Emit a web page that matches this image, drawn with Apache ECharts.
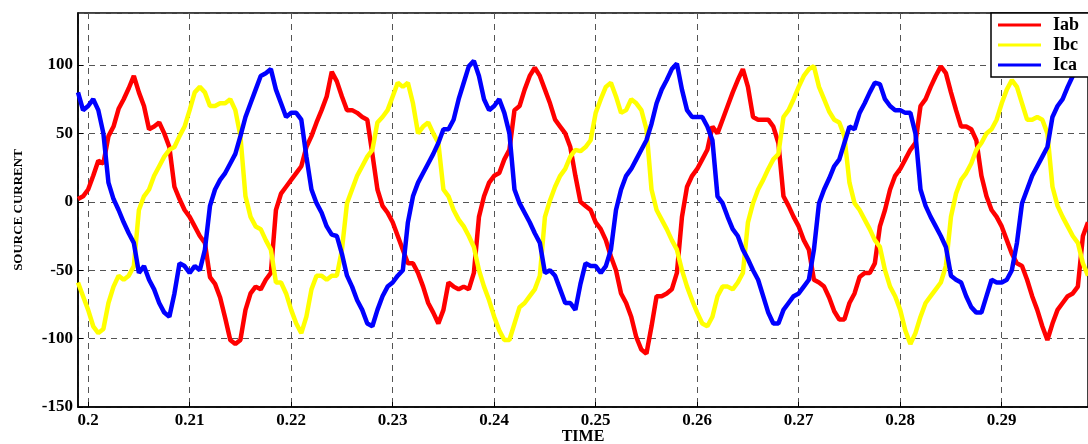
<!DOCTYPE html>
<html>
<head>
    <meta charset="utf-8">
    <title>Source current</title>
    <script src="https://cdn.jsdelivr.net/npm/echarts@6/dist/echarts.min.js"></script>
</head>
<body style="margin:0">
    <div id="main" style="width:1088px;height:444px;"></div>

    <script type="text/javascript">
        // sample times: start 0.199 s, one value every 0.5 ms
        var t0 = 0.199;
        var dt = 0.0005;

        var seriesNames = ['Iab', 'Ibc', 'Ica'];

        // values, 10 per row (5 ms per row)
        var iab = [
            2, 4, 9, 19, 30, 28, 48, 55, 68, 75,
            83, 92, 80, 70, 53, 55, 58, 50, 40, 11,
            2, -6, -11, -18, -25, -30, -55, -60, -70, -85,
            -101, -104, -101, -79, -67, -62, -64, -57, -52, -6,
            6, 11, 16, 21, 26, 40, 48, 58, 67, 77,
            95, 88, 77, 67, 67, 65, 62, 60, 35, 9,
            -3, -8, -15, -25, -35, -45, -45, -52, -62, -74,
            -81, -89, -79, -59, -62, -64, -62, -64, -52, -11,
            4, 14, 19, 21, 31, 38, 67, 70, 82, 92,
            98, 92, 82, 72, 60, 55, 50, 40, 19, 0,
            -3, -6, -15, -20, -28, -40, -50, -67, -74, -84,
            -99, -108, -111, -91, -69, -69, -67, -64, -52, -11,
            11, 19, 24, 31, 38, 55, 50, 60, 70, 80,
            89, 97, 84, 62, 60, 60, 60, 55, 43, 4,
            -3, -11, -18, -28, -35, -57, -59, -62, -70, -80,
            -86, -86, -74, -67, -55, -52, -52, -45, -18, -6,
            9, 19, 24, 31, 38, 43, 70, 75, 84, 92,
            99, 94, 80, 67, 55, 55, 53, 45, 19, 4,
            -6, -11, -18, -28, -38, -45, -47, -57, -69, -79,
            -91, -101, -89, -79, -74, -69, -67, -62, -25, -15
        ];

        var ibc = [
            -59, -69, -79, -91, -96, -93, -74, -62, -54, -57,
            -54, -47, -6, 4, 9, 19, 26, 33, 38, 40,
            48, 55, 67, 80, 84, 80, 70, 70, 72, 72,
            75, 67, 48, 4, -11, -18, -20, -28, -35, -59,
            -59, -67, -79, -89, -96, -84, -64, -54, -54, -57,
            -54, -54, -35, -1, 9, 19, 26, 33, 38, 58,
            62, 67, 77, 87, 84, 87, 72, 50, 55, 58,
            50, 43, 9, 4, -6, -13, -18, -25, -33, -50,
            -62, -72, -84, -94, -101, -101, -89, -77, -74, -69,
            -64, -54, -11, 1, 11, 19, 24, 33, 38, 37,
            40, 45, 65, 75, 84, 87, 77, 65, 67, 75,
            72, 67, 53, 9, -6, -13, -20, -28, -35, -50,
            -62, -72, -81, -89, -91, -84, -69, -62, -62, -64,
            -59, -52, -15, -1, 9, 16, 24, 31, 35, 62,
            67, 75, 84, 92, 97, 99, 84, 75, 66, 60,
            58, 48, 14, -1, -6, -13, -20, -28, -33, -50,
            -62, -69, -79, -94, -104, -96, -84, -74, -69, -64,
            -59, -47, -11, 6, 16, 21, 28, 38, 43, 50,
            53, 60, 72, 82, 89, 84, 72, 60, 60, 62,
            60, 50, 11, -3, -11, -18, -25, -30, -45, -54
        ];

        var ica = [
            80, 67, 70, 75, 67, 50, 14, 2, -6, -15,
            -23, -30, -52, -47, -57, -64, -74, -81, -84, -67,
            -45, -47, -52, -47, -50, -35, -3, 9, 16, 21,
            28, 35, 48, 62, 72, 82, 92, 94, 97, 82,
            72, 62, 65, 65, 60, 33, 9, -1, -8, -18,
            -24, -25, -38, -54, -62, -72, -79, -89, -91, -79,
            -69, -62, -59, -54, -50, -15, 4, 14, 21, 28,
            35, 43, 53, 53, 60, 75, 87, 99, 103, 92,
            75, 67, 70, 75, 65, 50, 9, -1, -8, -15,
            -23, -30, -52, -50, -54, -64, -74, -74, -79, -60,
            -45, -47, -47, -52, -47, -35, -6, 9, 19, 24,
            31, 38, 45, 57, 72, 82, 89, 97, 101, 82,
            67, 62, 62, 62, 55, 45, 4, -1, -11, -20,
            -25, -35, -42, -50, -57, -69, -81, -89, -89, -79,
            -74, -69, -67, -62, -57, -35, -1, 9, 17, 26,
            31, 43, 55, 53, 65, 72, 80, 87, 86, 75,
            70, 67, 67, 65, 65, 50, 9, -3, -11, -18,
            -25, -33, -54, -57, -59, -69, -77, -81, -81, -69,
            -57, -59, -59, -57, -50, -30, -1, 9, 19, 26,
            33, 40, 62, 70, 75, 84, 92, 97, 99, 101
        ];

        var colors = ['#ff0000', '#ffff00', '#0000ff'];
        var serif = 'Liberation Serif';

        function toPoints(arr) {
            return arr.map(function (v, i) {
                return [+(t0 + i * dt).toFixed(4), v];
            });
        }

        var myChart = echarts.init(document.getElementById('main'));

        var gridLine = {
            show: true,
            lineStyle: { color: '#555', type: [6, 5], width: 1 }
        };

        var option = {
            animation: false,
            backgroundColor: '#fff',
            grid: {
                left: 78, right: 0, top: 13, bottom: 37,
                outerBoundsMode: 'none',
                show: true, borderColor: '#000', borderWidth: 1.5,
                backgroundColor: 'transparent'
            },
            legend: {
                data: seriesNames,
                orient: 'vertical',
                left: 991, top: 13,
                backgroundColor: '#fff',
                borderColor: '#000',
                borderWidth: 1.5,
                borderRadius: 0,
                padding: [3, 30, 3, 7],
                itemGap: 2,
                itemWidth: 43,
                itemHeight: 3,
                icon: 'rect',
                textStyle: {
                    fontFamily: serif, fontWeight: 'bold', fontSize: 18,
                    color: '#000', padding: [0, 0, 0, 7]
                }
            },
            xAxis: {
                type: 'value',
                min: 0.199, max: 0.2985,
                splitNumber: 10,
                name: 'TIME',
                nameLocation: 'middle',
                nameGap: 22,
                nameMoveOverlap: false,
                nameTextStyle: { fontFamily: serif, fontWeight: 'bold', fontSize: 16, color: '#000' },
                axisLine: { show: true, onZero: false, lineStyle: { color: '#000', width: 1.5 } },
                axisTick: { show: true, inside: true, length: 5, lineStyle: { color: '#000' } },
                axisLabel: {
                    fontFamily: serif, fontWeight: 'bold', fontSize: 17, color: '#000',
                    margin: 5, showMinLabel: false, showMaxLabel: false
                },
                splitLine: gridLine
            },
            yAxis: {
                type: 'value',
                min: -150, max: 138, interval: 50,
                name: 'SOURCE CURRENT',
                nameLocation: 'middle',
                nameRotate: 90,
                nameGap: 53,
                nameTextStyle: { fontFamily: serif, fontWeight: 'bold', fontSize: 13, color: '#000' },
                axisLine: { show: true, lineStyle: { color: '#000', width: 1.5 } },
                axisTick: { show: true, inside: true, length: 5, lineStyle: { color: '#000' } },
                axisLabel: {
                    fontFamily: serif, fontWeight: 'bold', fontSize: 17, color: '#000',
                    margin: 5, showMaxLabel: false
                },
                splitLine: gridLine
            },
            series: [iab, ibc, ica].map(function (arr, k) {
                return {
                    name: seriesNames[k],
                    type: 'line',
                    data: toPoints(arr),
                    showSymbol: false,
                    color: colors[k],
                    lineStyle: { color: colors[k], width: 4.5 }
                };
            })
        };

        myChart.setOption(option);
    </script>
</body>
</html>
